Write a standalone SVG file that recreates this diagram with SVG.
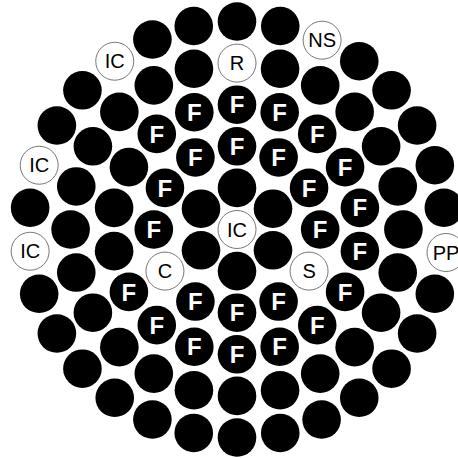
<svg xmlns="http://www.w3.org/2000/svg" width="458" height="458" viewBox="0 0 458 458">
<style>
.b{fill:#000}
.w{fill:#fff;stroke:#777;stroke-width:1}
.f{fill:#fff;font-family:"Liberation Sans",Arial,sans-serif;font-size:24px;font-weight:bold;text-anchor:middle}
.t{fill:#000;font-family:"Liberation Sans",Arial,sans-serif;font-size:20px;text-anchor:middle}
</style>
<rect width="458" height="458" fill="#fff"/>
<g transform="translate(0.5 0)">
<!-- center -->
<g id="c0"><circle class="w" cx="236.5" cy="229.5" r="19"/><text class="t" x="236.5" y="236.7">IC</text></g>
<!-- ring 1 -->
<g id="r1a30"><circle class="b" cx="272.5" cy="250.3" r="19.3"/></g>
<g id="r1a90"><circle class="b" cx="236.5" cy="271.1" r="19.3"/></g>
<g id="r1a150"><circle class="b" cx="200.5" cy="250.3" r="19.3"/></g>
<g id="r1a210"><circle class="b" cx="200.5" cy="208.7" r="19.3"/></g>
<g id="r1a270"><circle class="b" cx="236.5" cy="187.9" r="19.3"/></g>
<g id="r1a330"><circle class="b" cx="272.5" cy="208.7" r="19.3"/></g>
<!-- ring 2 -->
<g id="r2a0"><circle class="b" cx="319.7" cy="229.5" r="19.3"/><text class="f" x="319.7" y="238.1">F</text></g>
<g id="r2a30"><circle class="w" cx="308.55" cy="271.1" r="19"/><text class="t" x="308.55" y="278.3">S</text></g>
<g id="r2a60"><circle class="b" cx="278.1" cy="301.55" r="19.3"/><text class="f" x="278.1" y="310.15">F</text></g>
<g id="r2a90"><circle class="b" cx="236.5" cy="312.7" r="19.3"/><text class="f" x="236.5" y="321.3">F</text></g>
<g id="r2a120"><circle class="b" cx="194.9" cy="301.55" r="19.3"/><text class="f" x="194.9" y="310.15">F</text></g>
<g id="r2a150"><circle class="w" cx="164.45" cy="271.1" r="19"/><text class="t" x="164.45" y="278.3">C</text></g>
<g id="r2a180"><circle class="b" cx="153.3" cy="229.5" r="19.3"/><text class="f" x="153.3" y="238.1">F</text></g>
<g id="r2a210"><circle class="b" cx="164.45" cy="187.9" r="19.3"/><text class="f" x="164.45" y="196.5">F</text></g>
<g id="r2a240"><circle class="b" cx="194.9" cy="157.45" r="19.3"/><text class="f" x="194.9" y="166.05">F</text></g>
<g id="r2a270"><circle class="b" cx="236.5" cy="146.3" r="19.3"/><text class="f" x="236.5" y="154.9">F</text></g>
<g id="r2a300"><circle class="b" cx="278.1" cy="157.45" r="19.3"/><text class="f" x="278.1" y="166.05">F</text></g>
<g id="r2a330"><circle class="b" cx="308.55" cy="187.9" r="19.3"/><text class="f" x="308.55" y="196.5">F</text></g>
<!-- ring 3 -->
<g id="r3a10"><circle class="b" cx="359.4" cy="251.17" r="19.3"/><text class="f" x="359.4" y="259.77">F</text></g>
<g id="r3a30"><circle class="b" cx="344.58" cy="291.9" r="19.3"/><text class="f" x="344.58" y="300.5">F</text></g>
<g id="r3a50"><circle class="b" cx="316.72" cy="325.1" r="19.3"/><text class="f" x="316.72" y="333.7">F</text></g>
<g id="r3a70"><circle class="b" cx="279.18" cy="346.77" r="19.3"/><text class="f" x="279.18" y="355.37">F</text></g>
<g id="r3a90"><circle class="b" cx="236.5" cy="354.3" r="19.3"/><text class="f" x="236.5" y="362.9">F</text></g>
<g id="r3a110"><circle class="b" cx="193.82" cy="346.77" r="19.3"/><text class="f" x="193.82" y="355.37">F</text></g>
<g id="r3a130"><circle class="b" cx="156.28" cy="325.1" r="19.3"/><text class="f" x="156.28" y="333.7">F</text></g>
<g id="r3a150"><circle class="b" cx="128.42" cy="291.9" r="19.3"/><text class="f" x="128.42" y="300.5">F</text></g>
<g id="r3a170"><circle class="b" cx="113.6" cy="251.17" r="19.3"/></g>
<g id="r3a190"><circle class="b" cx="113.6" cy="207.83" r="19.3"/></g>
<g id="r3a210"><circle class="b" cx="128.42" cy="167.1" r="19.3"/></g>
<g id="r3a230"><circle class="b" cx="156.28" cy="133.9" r="19.3"/><text class="f" x="156.28" y="142.5">F</text></g>
<g id="r3a250"><circle class="b" cx="193.82" cy="112.23" r="19.3"/><text class="f" x="193.82" y="120.83">F</text></g>
<g id="r3a270"><circle class="b" cx="236.5" cy="104.7" r="19.3"/><text class="f" x="236.5" y="113.3">F</text></g>
<g id="r3a290"><circle class="b" cx="279.18" cy="112.23" r="19.3"/><text class="f" x="279.18" y="120.83">F</text></g>
<g id="r3a310"><circle class="b" cx="316.72" cy="133.9" r="19.3"/><text class="f" x="316.72" y="142.5">F</text></g>
<g id="r3a330"><circle class="b" cx="344.58" cy="167.1" r="19.3"/><text class="f" x="344.58" y="175.7">F</text></g>
<g id="r3a350"><circle class="b" cx="359.4" cy="207.83" r="19.3"/><text class="f" x="359.4" y="216.43">F</text></g>
<!-- ring 4 -->
<g id="r4a0"><circle class="b" cx="402.9" cy="229.5" r="19.3"/></g>
<g id="r4a15"><circle class="b" cx="397.23" cy="272.57" r="19.3"/></g>
<g id="r4a30"><circle class="b" cx="380.61" cy="312.7" r="19.3"/></g>
<g id="r4a45"><circle class="b" cx="354.16" cy="347.16" r="19.3"/></g>
<g id="r4a60"><circle class="b" cx="319.7" cy="373.61" r="19.3"/></g>
<g id="r4a75"><circle class="b" cx="279.57" cy="390.23" r="19.3"/></g>
<g id="r4a90"><circle class="b" cx="236.5" cy="395.9" r="19.3"/></g>
<g id="r4a105"><circle class="b" cx="193.43" cy="390.23" r="19.3"/></g>
<g id="r4a120"><circle class="b" cx="153.3" cy="373.61" r="19.3"/></g>
<g id="r4a135"><circle class="b" cx="118.84" cy="347.16" r="19.3"/></g>
<g id="r4a150"><circle class="b" cx="92.39" cy="312.7" r="19.3"/></g>
<g id="r4a165"><circle class="b" cx="75.77" cy="272.57" r="19.3"/></g>
<g id="r4a180"><circle class="b" cx="70.1" cy="229.5" r="19.3"/></g>
<g id="r4a195"><circle class="b" cx="75.77" cy="186.43" r="19.3"/></g>
<g id="r4a210"><circle class="b" cx="92.39" cy="146.3" r="19.3"/></g>
<g id="r4a225"><circle class="b" cx="118.84" cy="111.84" r="19.3"/></g>
<g id="r4a240"><circle class="b" cx="153.3" cy="85.39" r="19.3"/></g>
<g id="r4a255"><circle class="b" cx="193.43" cy="68.77" r="19.3"/></g>
<g id="r4a270"><circle class="w" cx="236.5" cy="63.1" r="19"/><text class="t" x="236.5" y="70.3">R</text></g>
<g id="r4a285"><circle class="b" cx="279.57" cy="68.77" r="19.3"/></g>
<g id="r4a300"><circle class="b" cx="319.7" cy="85.39" r="19.3"/></g>
<g id="r4a315"><circle class="b" cx="354.16" cy="111.84" r="19.3"/></g>
<g id="r4a330"><circle class="b" cx="380.61" cy="146.3" r="19.3"/></g>
<g id="r4a345"><circle class="b" cx="397.23" cy="186.43" r="19.3"/></g>
<!-- ring 5 -->
<g id="r5a6"><circle class="w" cx="445.5" cy="252.5" r="19"/><text class="t" x="445.5" y="259.7">PP</text></g>
<g id="r5a18"><circle class="b" cx="434.32" cy="293.78" r="19.3"/></g>
<g id="r5a30"><circle class="b" cx="416.63" cy="333.5" r="19.3"/></g>
<g id="r5a42"><circle class="b" cx="391.07" cy="368.68" r="19.3"/></g>
<g id="r5a54"><circle class="b" cx="358.76" cy="397.78" r="19.3"/></g>
<g id="r5a66"><circle class="b" cx="321.1" cy="419.52" r="19.3"/></g>
<g id="r5a78"><circle class="b" cx="279.75" cy="432.96" r="19.3"/></g>
<g id="r5a90"><circle class="b" cx="236.5" cy="437.5" r="19.3"/></g>
<g id="r5a102"><circle class="b" cx="193.25" cy="432.96" r="19.3"/></g>
<g id="r5a114"><circle class="b" cx="151.9" cy="419.52" r="19.3"/></g>
<g id="r5a126"><circle class="b" cx="114.24" cy="397.78" r="19.3"/></g>
<g id="r5a138"><circle class="b" cx="81.93" cy="368.68" r="19.3"/></g>
<g id="r5a150"><circle class="b" cx="56.37" cy="333.5" r="19.3"/></g>
<g id="r5a162"><circle class="b" cx="38.68" cy="293.78" r="19.3"/></g>
<g id="r5a174"><circle class="w" cx="29.64" cy="251.24" r="19"/><text class="t" x="29.64" y="258.44">IC</text></g>
<g id="r5a186"><circle class="b" cx="29.64" cy="207.76" r="19.3"/></g>
<g id="r5a198"><circle class="w" cx="38.68" cy="165.22" r="19"/><text class="t" x="38.68" y="172.42">IC</text></g>
<g id="r5a210"><circle class="b" cx="56.37" cy="125.5" r="19.3"/></g>
<g id="r5a222"><circle class="b" cx="81.93" cy="90.32" r="19.3"/></g>
<g id="r5a234"><circle class="w" cx="114.24" cy="61.22" r="19"/><text class="t" x="114.24" y="68.42">IC</text></g>
<g id="r5a246"><circle class="b" cx="151.9" cy="39.48" r="19.3"/></g>
<g id="r5a258"><circle class="b" cx="193.25" cy="26.04" r="19.3"/></g>
<g id="r5a270"><circle class="b" cx="236.5" cy="21.5" r="19.3"/></g>
<g id="r5a282"><circle class="b" cx="279.75" cy="26.04" r="19.3"/></g>
<g id="r5a294"><circle class="w" cx="321.6" cy="40.2" r="19"/><text class="t" x="321.6" y="47.4">NS</text></g>
<g id="r5a306"><circle class="b" cx="358.76" cy="61.22" r="19.3"/></g>
<g id="r5a318"><circle class="b" cx="391.07" cy="90.32" r="19.3"/></g>
<g id="r5a330"><circle class="b" cx="416.63" cy="125.5" r="19.3"/></g>
<g id="r5a342"><circle class="b" cx="434.32" cy="165.22" r="19.3"/></g>
<g id="r5a354"><circle class="b" cx="443.36" cy="207.76" r="19.3"/></g>
</g>
</svg>
